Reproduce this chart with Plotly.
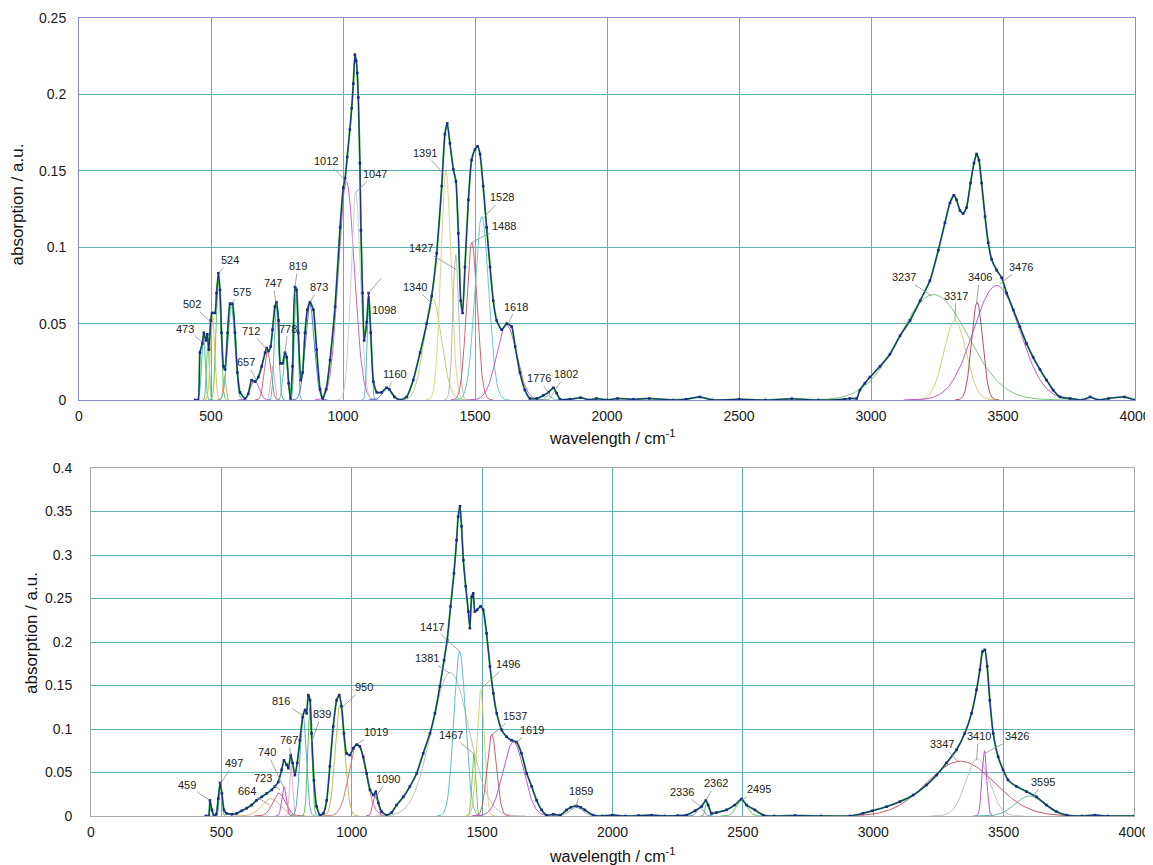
import numpy as np
import plotly.graph_objects as go

# page body adds an 8px margin; the figure is sized to fill the rest of the window
OFF = 8
W, H = 1153 - OFF, 865 - OFF

top_x = [440, 451, 458, 467, 473, 481, 486, 492, 499, 504, 515, 521, 528, 534, 540, 547, 553, 563, 572, 581,
         591, 600, 610, 629, 641, 654, 667, 679, 692, 705, 711, 718, 726, 733, 742, 748, 756, 763, 771, 780,
         787, 794, 801, 809, 818, 824, 831, 840, 847, 856, 865, 875, 888, 900, 913, 923, 936, 951, 970, 989,
         1001, 1008, 1016, 1026, 1033, 1039, 1045, 1050, 1054, 1058, 1064, 1068, 1074, 1080, 1090, 1097, 1105,
         1115, 1128, 1146, 1165, 1175, 1195, 1216, 1241, 1266, 1292, 1317, 1336, 1355, 1374, 1386, 1395, 1405,
         1418, 1428, 1437, 1446, 1453, 1462, 1475, 1487, 1500, 1510, 1519, 1531, 1544, 1557, 1569, 1582, 1601,
         1620, 1639, 1652, 1670, 1689, 1708, 1734, 1759, 1778, 1797, 1809, 1822, 1860, 1900, 1935, 1960, 2000,
         2040, 2100, 2160, 2250, 2300, 2352, 2400, 2500, 2600, 2700, 2800, 2900, 2920, 2946, 2958, 2977, 2996,
         3034, 3072, 3110, 3148, 3186, 3223, 3255, 3280, 3299, 3314, 3324, 3337, 3349, 3362, 3377, 3390, 3400,
         3409, 3419, 3432, 3444, 3457, 3476, 3495, 3514, 3539, 3564, 3589, 3614, 3640, 3665, 3690, 3716, 3754,
         3800, 3830, 3860, 3900, 3960, 4000]
top_y = [0, 0, 0.031, 0.037, 0.044, 0.039, 0.043, 0.033, 0.052, 0.057, 0.057, 0.070, 0.083, 0.072, 0.044,
         0.022, 0.020, 0.044, 0.063, 0.063, 0.044, 0.018, 0.005, 0.001, 0.004, 0.013, 0.012, 0.015, 0.022,
         0.031, 0.034, 0.032, 0.035, 0.046, 0.061, 0.064, 0.052, 0.024, 0.024, 0.031, 0.028, 0.011, 0.001,
         0.022, 0.074, 0.072, 0.044, 0.013, 0.018, 0.044, 0.059, 0.064, 0.059, 0.033, 0.007, 0.001, 0.007,
         0.026, 0.061, 0.113, 0.139, 0.145, 0.159, 0.177, 0.191, 0.207, 0.226, 0.222, 0.214, 0.198, 0.155,
         0.111, 0.070, 0.039, 0.051, 0.070, 0.044, 0.012, 0.005, 0.005, 0.008, 0.007, 0.002, 0.0, 0.002,
         0.013, 0.031, 0.050, 0.068, 0.096, 0.140, 0.174, 0.181, 0.168, 0.151, 0.143, 0.109, 0.065, 0.057,
         0.087, 0.131, 0.157, 0.164, 0.166, 0.161, 0.140, 0.113, 0.087, 0.065, 0.052, 0.046, 0.050, 0.048,
         0.035, 0.018, 0.0065, 0.001, 0.001, 0.003, 0.005, 0.008, 0.0045, 0.0005, 0.0005, 0.0015, 0.0, 0.001,
         0.0, 0.001, 0.0005, 0.001, 0.0, 0.0005, 0.002, 0.0, 0.0005, 0.0, 0.0008, 0.0, 0.0005, 0.001, 0.001,
         0.0065, 0.011, 0.015, 0.022, 0.030, 0.042, 0.052, 0.065, 0.078, 0.098, 0.116, 0.129, 0.134, 0.131,
         0.124, 0.122, 0.126, 0.142, 0.155, 0.161, 0.157, 0.142, 0.120, 0.103, 0.092, 0.085, 0.080, 0.070,
         0.059, 0.048, 0.037, 0.028, 0.020, 0.013, 0.0065, 0.002, 0.001, 0.0, 0.002, 0.0, 0.001, 0.002, 0.0]

bot_x = [440, 452, 456, 464, 472, 480, 488, 495, 502, 510, 520, 540, 559, 578, 597, 616, 635, 655, 674, 693,
         705, 718, 731, 740, 750, 757, 766, 773, 782, 791, 801, 812, 821, 827, 833, 840, 846, 855, 865, 878,
         891, 904, 916, 929, 942, 952, 961, 970, 980, 993, 1006, 1019, 1031, 1044, 1057, 1070, 1083, 1092,
         1102, 1115, 1134, 1153, 1172, 1198, 1223, 1249, 1274, 1300, 1319, 1338, 1354, 1366, 1379, 1392,
         1402, 1408, 1415, 1421, 1428, 1437, 1447, 1453, 1460, 1466, 1472, 1481, 1494, 1504, 1517, 1530,
         1543, 1556, 1575, 1594, 1613, 1632, 1651, 1671, 1690, 1709, 1728, 1747, 1773, 1800, 1824, 1840,
         1862, 1878, 1894, 1926, 1960, 2000, 2050, 2100, 2150, 2200, 2250, 2284, 2316, 2342, 2358, 2367,
         2380, 2399, 2437, 2469, 2495, 2514, 2546, 2578, 2620, 2700, 2800, 2910, 2960, 2997, 3051, 3102,
         3153, 3204, 3243, 3281, 3319, 3351, 3377, 3396, 3409, 3419, 3428, 3437, 3447, 3460, 3479, 3498,
         3517, 3549, 3588, 3626, 3664, 3703, 3741, 3800, 3850, 3900, 4000]
bot_y = [0, 0, 0.018, 0.007, 0.0, 0.002, 0.020, 0.038, 0.026, 0.007, 0.003, 0.002, 0.003, 0.006, 0.009,
         0.0126, 0.018, 0.022, 0.026, 0.030, 0.034, 0.039, 0.053, 0.064, 0.059, 0.055, 0.070, 0.061, 0.047,
         0.061, 0.087, 0.114, 0.122, 0.118, 0.139, 0.133, 0.095, 0.041, 0.011, 0.001, 0.003, 0.018, 0.057,
         0.103, 0.133, 0.139, 0.126, 0.095, 0.072, 0.070, 0.078, 0.082, 0.080, 0.068, 0.049, 0.030, 0.024,
         0.028, 0.015, 0.005, 0.001, 0.004, 0.0126, 0.022, 0.034, 0.049, 0.072, 0.095, 0.118, 0.149, 0.179,
         0.202, 0.241, 0.279, 0.317, 0.344, 0.356, 0.333, 0.294, 0.264, 0.235, 0.216, 0.252, 0.256, 0.235,
         0.237, 0.241, 0.237, 0.210, 0.172, 0.141, 0.118, 0.099, 0.091, 0.087, 0.085, 0.072, 0.049, 0.034,
         0.018, 0.007, 0.001, 0.002, 0.001, 0.007, 0.010, 0.0115, 0.010, 0.007, 0.001, 0.0, 0.001, 0.0,
         0.0005, 0.001, 0.0, 0.0005, 0.001, 0.006, 0.011, 0.018, 0.0126, 0.003, 0.004, 0.007, 0.0126, 0.0195,
         0.0126, 0.007, 0.001, 0.0, 0.0005, 0.0, 0.0, 0.003, 0.006, 0.0107, 0.0165, 0.024, 0.0356, 0.047,
         0.061, 0.076, 0.095, 0.118, 0.145, 0.168, 0.189, 0.191, 0.172, 0.133, 0.095, 0.068, 0.053, 0.0414,
         0.034, 0.028, 0.022, 0.0126, 0.005, 0.001, 0.0, 0.001, 0.0, 0.0]

# ---------------- fitted component bands: centre, height, width ----------------
top_c = [471, 488, 506, 528, 551, 576, 665, 714, 733, 748, 781, 822, 874, 1013, 1048, 1099, 1168,
         1340, 1390, 1427, 1488, 1526, 1620, 1778, 1802, 3237, 3318, 3402, 3476]
top_h = [0.044, 0.040, 0.055, 0.082, 0.016, 0.064, 0.013, 0.032, 0.022, 0.063, 0.030, 0.074, 0.063, 0.143,
         0.136, 0.068, 0.008, 0.066, 0.150, 0.095, 0.103, 0.120, 0.049, 0.003, 0.006, 0.069, 0.052, 0.064, 0.075]
top_w = [6.5, 5, 8, 8.5, 5, 13, 16, 12, 7, 8, 8, 6, 17, 30, 18, 7, 18, 33, 19, 11, 20, 26, 38, 10, 10,
         130, 42, 21, 88]
top_col = ['#3fb5b0', '#5cbf5c', '#d4c24a', '#5cbf5c', '#e89a40', '#3fb5b0', '#c84fc0', '#d05a6a', '#e8a0b8',
           '#3fb5b0', '#62c08a', '#3fb5b0', '#4a6ad0', '#c84fc0', '#c8c8c8', '#3fb5b0', '#4a6ad0', '#b4cc6a',
           '#d8cf78', '#b0b0b0', '#c85060', '#52c4c4', '#c050b0', '#52b4b4', '#70c070', '#72c272', '#cccc66',
           '#a83a5a', '#b44cbc']

bot_c = [457, 497, 690, 721, 740, 767, 813, 839, 955, 1022, 1090, 1378, 1414, 1468, 1494, 1537, 1620,
         1860, 2336, 2362, 2495, 3335, 3400, 3426, 3600]
bot_h = [0.018, 0.037, 0.020, 0.026, 0.034, 0.058, 0.118, 0.125, 0.128, 0.083, 0.025, 0.165, 0.189, 0.072,
         0.146, 0.094, 0.085, 0.010, 0.010, 0.017, 0.018, 0.063, 0.066, 0.075, 0.023]
bot_w = [3.5, 5, 35, 24, 8, 6, 12, 8, 18, 32, 9, 72, 22, 7, 14, 18, 40, 25, 12, 6, 20, 130, 45, 9, 55]
bot_col = ['#3fb5b0', '#3aa0a8', '#d4b470', '#c04a68', '#c040c0', '#e4a8c8', '#3fa8b8', '#4cb84c', '#b4b440',
           '#d86a6a', '#c040c0', '#b8b8b8', '#4cb8c0', '#6cc04c', '#d4cc5a', '#c84a5a', '#b44cc0', '#a0a0a0',
           '#6090c0', '#4cb89c', '#5cbf5c', '#c04858', '#bcbcbc', '#c040c0', '#52b4a4']

# ---------------- peak labels: text, target x, target y, text offset (px) ----------------
top_lab = ['473', '502', '524', '575', '657', '712', '747', '778', '819', '873', '1012', '1047', '1160',
           '1391', '1427', '1340', '1528', '1488', '1618', '1776', '1802', '3237', '3317', '3406', '3476']
top_lx = [467, 499, 530, 576, 672, 711, 746, 780, 818, 875, 1008, 1049, 1172,
          1380, 1428, 1336, 1532, 1487, 1626, 1784, 1803, 3230, 3318, 3400, 3489]
top_ly = [0.038, 0.051, 0.083, 0.063, 0.013, 0.033, 0.064, 0.031, 0.074, 0.064, 0.144, 0.136, 0.0077,
          0.148, 0.0855, 0.063, 0.119, 0.103, 0.050, 0.003, 0.0065, 0.068, 0.052, 0.064, 0.076]
top_dx = [-17, -19, 11, 11, -10, -16, -3, 3, 3, 9, -19, 19, 7, -18, -35, -17, 19, 32, 8, -11, 11, -28, 1, 3, 21]
top_dy = [-13, -18, -13, -12, -18, -19, -19, -24, -21, -15, -19, -18, -14, -21, -21, -17, -21, -17, -17, -17,
          -16, -19, -25, -25, -17]

bot_lab = ['459', '497', '664', '723', '740', '767', '816', '839', '950', '1019', '1090', '1417', '1381',
           '1496', '1537', '1619', '1467', '1859', '2336', '2362', '2495', '3347', '3410', '3426', '3595']
bot_lx = [456, 497, 686, 725, 737, 766, 814, 846, 961, 1025, 1089, 1415, 1376,
          1498, 1536, 1632, 1466, 1860, 2335, 2358, 2495, 3326, 3396, 3428, 3613]
bot_ly = [0.018, 0.037, 0.0126, 0.030, 0.034, 0.070, 0.115, 0.085, 0.124, 0.0835, 0.020, 0.189, 0.164,
          0.147, 0.093, 0.085, 0.072, 0.0115, 0.0115, 0.018, 0.018, 0.062, 0.064, 0.072, 0.022]
bot_dx = [-23, 13, -23, -17, -16, -2, -22, 10, 22, 18, 13, -28, -23, 26, 23, 15, -22, 5, -18, 10, 17, -16, 2, 32, 10]
bot_dy = [-15, -21, -14, -12, -34, -15, -15, -28, -21, -11, -20, -25, -15, -24, -19, -12, -18, -15, -14, -17,
          -11, -18, -24, -17, -15]

x_ticks = [0, 500, 1000, 1500, 2000, 2500, 3000, 3500, 4000]

NAVY = '#1b2a8c'
FITG = '#35aa3c'
FONT = 'Liberation Sans, Arial, sans-serif'


def px(x):
    return (x - OFF) / W


def py(y):
    return 1 - (y - OFF) / H


fig = go.Figure()


def add_panel(xs, ys, cs, hs, ws, cols, xa, ya):
    for c, h, w, col in zip(cs, hs, ws, cols):
        gx = np.linspace(c - 4 * w, c + 4 * w, 121)
        gy = h * np.exp(-0.5 * ((gx - c) / w) ** 2)
        fig.add_trace(go.Scatter(x=gx, y=gy, mode='lines', line=dict(color=col, width=0.9),
                                 xaxis=xa, yaxis=ya, hoverinfo='skip', showlegend=False))
    # fitted envelope (coincides with the measurement at reading precision)
    fig.add_trace(go.Scatter(x=xs, y=ys, mode='lines',
                             line=dict(color=FITG, width=1.9, shape='spline', smoothing=0.5),
                             xaxis=xa, yaxis=ya, hoverinfo='skip', showlegend=False))
    fig.add_trace(go.Scatter(x=xs, y=ys, mode='lines+markers',
                             line=dict(color=NAVY, width=1.05, shape='spline', smoothing=0.5),
                             marker=dict(color=NAVY, size=2.6, symbol='square'),
                             xaxis=xa, yaxis=ya, hoverinfo='skip', showlegend=False))


add_panel(top_x, top_y, top_c, top_h, top_w, top_col, 'x', 'y')
add_panel(bot_x, bot_y, bot_c, bot_h, bot_w, bot_col, 'x2', 'y2')

LBL = dict(family=FONT, size=11, color='#222222')
ann = []
for t, x, y, dx, dy in zip(top_lab, top_lx, top_ly, top_dx, top_dy):
    ann.append(dict(x=x, y=y, xref='x', yref='y', text=t, showarrow=True, ax=dx, ay=dy,
                    arrowhead=0, arrowwidth=0.8, arrowcolor='#8c8c8c', standoff=0, font=LBL))
for t, x, y, dx, dy in zip(bot_lab, bot_lx, bot_ly, bot_dx, bot_dy):
    ann.append(dict(x=x, y=y, xref='x2', yref='y2', text=t, showarrow=True, ax=dx, ay=dy,
                    arrowhead=0, arrowwidth=0.8, arrowcolor='#8c8c8c', standoff=0, font=LBL))
# 1098 label (its leader line in the original ends away from the text)
ann.append(dict(x=1155, y=0.0589, xref='x', yref='y', text='1098', showarrow=False, font=LBL))
ann.append(dict(x=1096, y=0.070, xref='x', yref='y', text='', showarrow=True, ax=14, ay=-16,
                arrowhead=0, arrowwidth=0.8, arrowcolor='#8c8c8c', standoff=0))

# axis titles
TF = dict(family=FONT, size=17, color='#111111')
for xc, yc in ((17.5, 205), (31, 633)):
    ann.append(dict(x=px(xc), y=py(yc), xref='paper', yref='paper', text='absorption / a.u.', textangle=-90,
                    xanchor='center', yanchor='middle', showarrow=False, font=TF))
XF = dict(family=FONT, size=16, color='#111111')
for yc in (437, 855):
    ann.append(dict(x=px(612), y=py(yc), xref='paper', yref='paper', text='wavelength / cm<sup>-1</sup>',
                    xanchor='center', yanchor='middle', showarrow=False, font=XF))

grid = '#5fb2b2'
TICKF = dict(family=FONT, size=14, color='#1a1a1a')
common_x = dict(range=[0, 4000], tickvals=x_ticks, showgrid=True, gridcolor=grid, gridwidth=1,
                zeroline=False, showline=True, mirror=True, ticks='', ticklabelstandoff=3, tickfont=TICKF)
common_y = dict(showgrid=True, gridcolor=grid, gridwidth=1, zeroline=False, showline=True, mirror=True,
                ticks='', tickfont=TICKF)

fig.update_layout(
    width=W, height=H, margin=dict(l=0, r=0, t=0, b=0, autoexpand=False),
    paper_bgcolor='white', plot_bgcolor='white', showlegend=False,
    xaxis=dict(domain=[px(79), px(1135)], anchor='y', linecolor='#8a8ad0', **common_x),
    yaxis=dict(domain=[py(400), py(18)], anchor='x', range=[0, 0.25], dtick=0.05,
               linecolor='#8a8ad0', ticklabelstandoff=9, **common_y),
    xaxis2=dict(domain=[px(91), px(1134)], anchor='y2', linecolor='#a8a8a8', **common_x),
    yaxis2=dict(domain=[py(816), py(468)], anchor='x2', range=[0, 0.4], dtick=0.05,
                linecolor='#a8a8a8', ticklabelstandoff=15, **common_y),
    annotations=ann,
)

fig.write_html('out.html')
